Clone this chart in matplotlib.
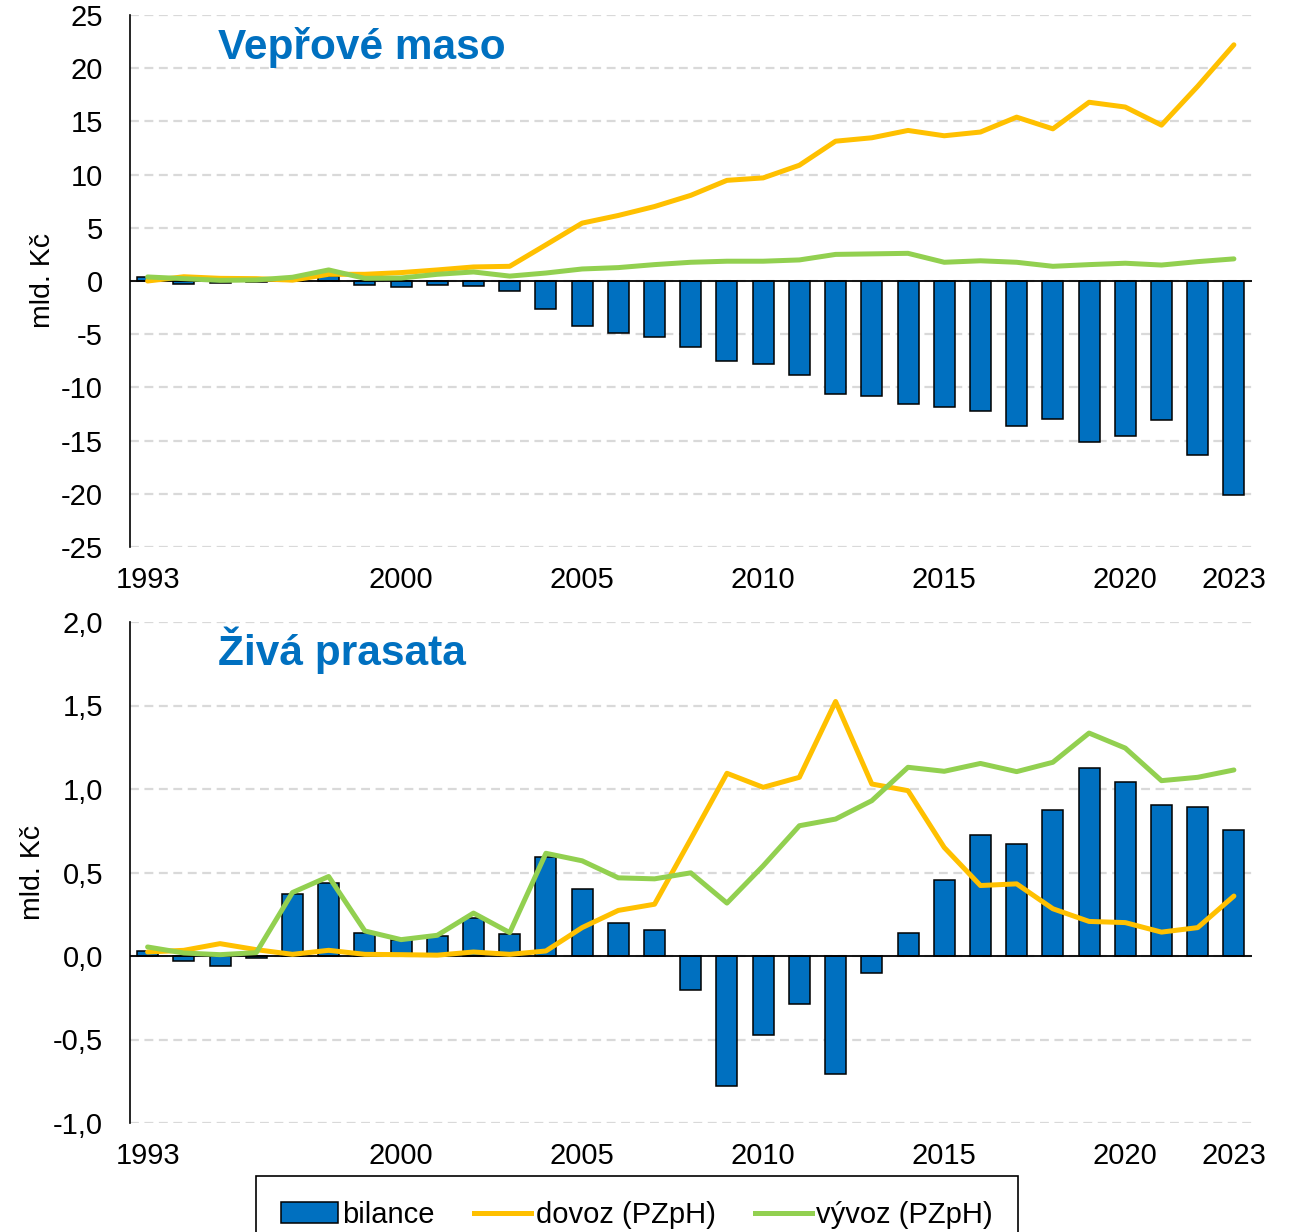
import matplotlib
matplotlib.use("Agg")
import matplotlib.pyplot as plt
from matplotlib.ticker import FixedLocator, FuncFormatter
from matplotlib.patches import Patch
from matplotlib.lines import Line2D

plt.rcParams['font.family'] = ['Liberation Sans', 'DejaVu Sans']

years = list(range(1993, 2024))
xtick_years = [1993, 2000, 2005, 2010, 2015, 2020, 2023]

# Vepřové maso (mld. Kč)
pork_bilance = [0.38, -0.25, -0.15, -0.1, 0.27, 0.45, -0.4, -0.55, -0.38, -0.47, -0.92,
                -2.67, -4.25, -4.87, -5.3, -6.2, -7.5, -7.8, -8.84, -10.66, -10.8,
                -11.6, -11.8, -12.2, -13.65, -12.95, -15.1, -14.6, -13.1, -16.4, -20.1]
pork_dovoz = [0.0, 0.4, 0.25, 0.22, 0.08, 0.63, 0.63, 0.79, 1.04, 1.32, 1.38,
              3.4, 5.44, 6.16, 7.0, 8.05, 9.46, 9.69, 10.88, 13.14, 13.46,
              14.15, 13.65, 14.0, 15.4, 14.3, 16.8, 16.35, 14.65, 18.3, 22.2]
pork_vyvoz = [0.38, 0.22, 0.06, 0.1, 0.35, 1.04, 0.25, 0.28, 0.63, 0.85, 0.46,
              0.75, 1.13, 1.26, 1.54, 1.76, 1.86, 1.86, 1.98, 2.5, 2.55,
              2.6, 1.76, 1.9, 1.76, 1.38, 1.54, 1.67, 1.5, 1.82, 2.08]

# Živá prasata (mld. Kč)
pigs_bilance = [0.03, -0.03, -0.062, -0.012, 0.369, 0.44, 0.137, 0.094, 0.12, 0.23, 0.13, 0.59,
                0.40, 0.20, 0.157, -0.205, -0.78, -0.476, -0.287, -0.705, -0.10, 0.14,
                0.457, 0.725, 0.67, 0.875, 1.125, 1.044, 0.906, 0.894, 0.757]
pigs_dovoz = [0.024, 0.034, 0.074, 0.038, 0.01, 0.034, 0.01, 0.008, 0.005, 0.024, 0.01, 0.03,
              0.17, 0.273, 0.31, 0.70, 1.094, 1.01, 1.07, 1.524, 1.03, 0.99,
              0.65, 0.422, 0.432, 0.283, 0.207, 0.20, 0.143, 0.17, 0.359]
pigs_vyvoz = [0.054, 0.018, 0.008, 0.02, 0.38, 0.476, 0.15, 0.098, 0.124, 0.257, 0.14, 0.615,
              0.57, 0.468, 0.462, 0.498, 0.317, 0.54, 0.78, 0.82, 0.93, 1.13,
              1.106, 1.153, 1.104, 1.16, 1.335, 1.245, 1.05, 1.07, 1.114]

titles = ["Vepřové maso", "Živá prasata"]
ylabel = "mld. Kč"
legend_labels = ["bilance", "dovoz (PZpH)", "vývoz (PZpH)"]

BLUE = "#0070C0"
ORANGE = "#FFC000"
GREEN = "#92D050"
GRID = "#D9D9D9"

W, H = 1300, 1232
fig = plt.figure(figsize=(W / 100, H / 100), dpi=100)

x0, x1 = 129.5, 1252
ax1 = fig.add_axes([x0 / W, 1 - 547 / H, (x1 - x0) / W, 532 / H])
ax2 = fig.add_axes([x0 / W, 1 - 1123 / H, (x1 - x0) / W, 501 / H])

TICK_FS = 21


def style(ax, bil, dov, vyv, ylim, yticks, fmt, title, title_y, ylab_x):
    ax.set_xlim(years[0] - 0.5, years[-1] + 0.5)
    ax.set_ylim(*ylim)
    ax.yaxis.set_major_locator(FixedLocator(yticks))
    ax.yaxis.set_major_formatter(FuncFormatter(fmt))
    ax.grid(axis='y', color=GRID, linestyle=(0, (4, 2.5)), linewidth=1.6, zorder=0)
    ax.set_axisbelow(True)
    ax.bar(years, bil, width=0.58, color=BLUE, edgecolor='black', linewidth=1.1, zorder=2)
    ax.axhline(0, color='black', linewidth=1.3, zorder=3)
    ax.plot(years, dov, color=ORANGE, linewidth=3.6, solid_capstyle='round',
            solid_joinstyle='round', zorder=4)
    ax.plot(years, vyv, color=GREEN, linewidth=3.6, solid_capstyle='round',
            solid_joinstyle='round', zorder=5)
    for s in ['top', 'right', 'bottom']:
        ax.spines[s].set_visible(False)
    ax.spines['left'].set_linewidth(1.2)
    ax.spines['left'].set_color('black')
    ax.set_xticks(xtick_years)
    ax.set_xticklabels([str(y) for y in xtick_years])
    ax.tick_params(axis='both', length=0, labelsize=TICK_FS, colors='black')
    ax.tick_params(axis='y', pad=19)
    ax.tick_params(axis='x', pad=14)
    ax.set_ylabel(ylabel, fontsize=20.5)
    ax.yaxis.set_label_coords(ylab_x, 0.5)
    ax.text(0.0788, title_y, title, transform=ax.transAxes, fontsize=30.5,
            fontweight='bold', color=BLUE, ha='left', va='center')


def fmt_int(v, pos):
    return f"{int(round(v))}".replace("\u2212", "-")


def fmt_dec(v, pos):
    return f"{v:.1f}".replace(".", ",")


style(ax1, pork_bilance, pork_dovoz, pork_vyvoz, (-25, 25), list(range(-25, 30, 5)),
      fmt_int, titles[0], 0.938, -0.0655)
style(ax2, pigs_bilance, pigs_dovoz, pigs_vyvoz, (-1.0, 2.0),
      [-1.0, -0.5, 0.0, 0.5, 1.0, 1.5, 2.0], fmt_dec, titles[1], 0.944, -0.0744)

handles = [Patch(facecolor=BLUE, edgecolor='black', linewidth=1.1),
           Line2D([0], [0], color=ORANGE, linewidth=3.6),
           Line2D([0], [0], color=GREEN, linewidth=3.6)]
leg = fig.legend(handles, legend_labels, loc='upper center',
                 bbox_to_anchor=(637 / W, 1 - 1176 / H), ncol=3, fontsize=21,
                 frameon=True, fancybox=False, edgecolor='black', framealpha=1,
                 handlelength=1.95, handleheight=0.7, handletextpad=0.15,
                 columnspacing=1.35, borderpad=0.85, borderaxespad=0)
leg.get_frame().set_linewidth(1.2)

fig.savefig("out.png", dpi=100)
